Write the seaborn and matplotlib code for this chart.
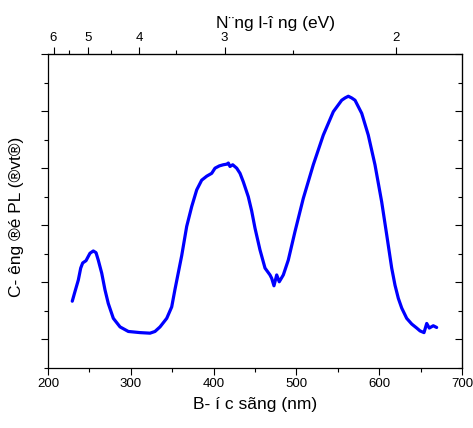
import numpy as np
import pandas as pd
import matplotlib
matplotlib.use("Agg")
import matplotlib.pyplot as plt
import seaborn as sns
from matplotlib.ticker import MultipleLocator, FixedLocator

# Photoluminescence spectrum (wavelength in nm, intensity in arbitrary units)
wavelength_nm = [
    229.3, 232.6, 236.6, 239.5, 241.9, 245.9, 250.7, 254.7, 258.0, 260.7,
    264.9, 268.8, 272.8, 278.9, 287.0, 297.0, 311.1, 323.2, 329.2, 335.3,
    343.4, 349.4, 353.4, 361.5, 367.5, 373.6, 379.6, 385.6, 391.7, 397.7,
    401.7, 406.9, 411.7, 415.8, 417.8, 419.8, 423.1, 427.9, 431.9, 435.9,
    441.9, 446.0, 450.0, 456.0, 462.1, 468.1, 470.2, 472.9, 476.2, 479.3,
    484.2, 490.2, 498.3, 508.3, 520.4, 532.5, 544.6, 554.7, 558.7, 562.7,
    566.8, 570.8, 578.9, 586.8, 594.9, 603.0, 609.1, 615.1, 619.1, 623.1,
    627.2, 633.2, 639.3, 645.3, 649.3, 654.1, 657.4, 660.5, 665.3, 669.4,
]
intensity = [
    0.67, 0.84, 1.04, 1.25, 1.34, 1.38, 1.51, 1.55, 1.52, 1.39,
    1.16, 0.87, 0.63, 0.37, 0.22, 0.14, 0.12, 0.11, 0.14, 0.22,
    0.37, 0.57, 0.88, 1.47, 1.98, 2.33, 2.62, 2.79, 2.86, 2.91,
    3.00, 3.04, 3.06, 3.07, 3.09, 3.03, 3.06, 3.00, 2.91, 2.76,
    2.50, 2.25, 1.95, 1.57, 1.25, 1.13, 1.07, 0.94, 1.13, 1.01,
    1.13, 1.39, 1.89, 2.47, 3.06, 3.58, 3.99, 4.19, 4.23, 4.26,
    4.23, 4.19, 3.96, 3.58, 3.06, 2.41, 1.83, 1.25, 0.95, 0.72,
    0.55, 0.37, 0.27, 0.20, 0.15, 0.12, 0.28, 0.20, 0.24, 0.21,
]

# Photon-energy ticks for the top axis (eV)
energy_major = [6, 5, 4, 3, 2]
energy_minor = [5.5, 4.5, 3.5, 2.5]

x_label = "B- í c sãng (nm)"
y_label = "C- êng ®é PL (®vt®)"
top_label = "N¨ng l-î ng (eV)"

sns.set_style("ticks")
plt.rcParams["font.family"] = ["Liberation Sans", "DejaVu Sans"]
for key in ("text.color", "axes.labelcolor", "xtick.color", "ytick.color",
            "axes.edgecolor"):
    plt.rcParams[key] = "black"

fig = plt.figure(figsize=(4.73, 4.28), dpi=100)
ax = fig.add_axes([48 / 473, 1 - 368 / 428, (462 - 48) / 473, (368 - 54) / 428])

df = pd.DataFrame({"wavelength": wavelength_nm, "intensity": intensity})
sns.lineplot(data=df, x="wavelength", y="intensity", ax=ax, color="#0000ff",
             lw=2.3, sort=False, estimator=None)

ax.set_xlim(200, 700)
ax.set_ylim(-0.5, 5)
ax.xaxis.set_major_locator(MultipleLocator(100))
ax.xaxis.set_minor_locator(MultipleLocator(50))
ax.yaxis.set_major_locator(MultipleLocator(1))
ax.yaxis.set_minor_locator(MultipleLocator(0.5))
ax.tick_params(axis="x", which="both", direction="out", top=False, bottom=True,
               labelsize=9.5, pad=2, width=0.8)
ax.tick_params(axis="x", which="major", length=5)
ax.tick_params(axis="x", which="minor", length=3)
ax.tick_params(axis="y", which="both", direction="out", left=True, right=False,
               labelleft=False, width=0.8)
ax.tick_params(axis="y", which="major", length=5)
ax.tick_params(axis="y", which="minor", length=3)
for s in ax.spines.values():
    s.set_visible(True)
    s.set_linewidth(0.9)
    s.set_color("black")

ax.set_xlabel(x_label, fontsize=12.5, labelpad=5)
ax.set_ylabel(y_label, fontsize=12.5, labelpad=12)
ax.yaxis.label.set_y(0.48)


def nm_to_ev(x):
    x = np.asarray(x, dtype=float)
    with np.errstate(divide="ignore", invalid="ignore"):
        return np.where(x != 0, 1240.0 / x, np.inf)


secx = ax.secondary_xaxis("top", functions=(nm_to_ev, nm_to_ev))
secx.xaxis.set_major_locator(FixedLocator(energy_major))
secx.xaxis.set_minor_locator(FixedLocator(energy_minor))
secx.tick_params(which="both", direction="out", labelsize=9.5, pad=2, width=0.8)
secx.tick_params(which="major", length=5)
secx.tick_params(which="minor", length=3)
secx.set_xlabel(top_label, fontsize=12.5, labelpad=3)
secx.xaxis.label.set_x(0.55)

secy = ax.secondary_yaxis("right")
secy.yaxis.set_major_locator(MultipleLocator(1))
secy.yaxis.set_minor_locator(MultipleLocator(0.5))
secy.tick_params(which="both", direction="in", labelright=False, width=0.8)
secy.tick_params(which="major", length=5)
secy.tick_params(which="minor", length=3)

fig.savefig("out.png", dpi=100)
